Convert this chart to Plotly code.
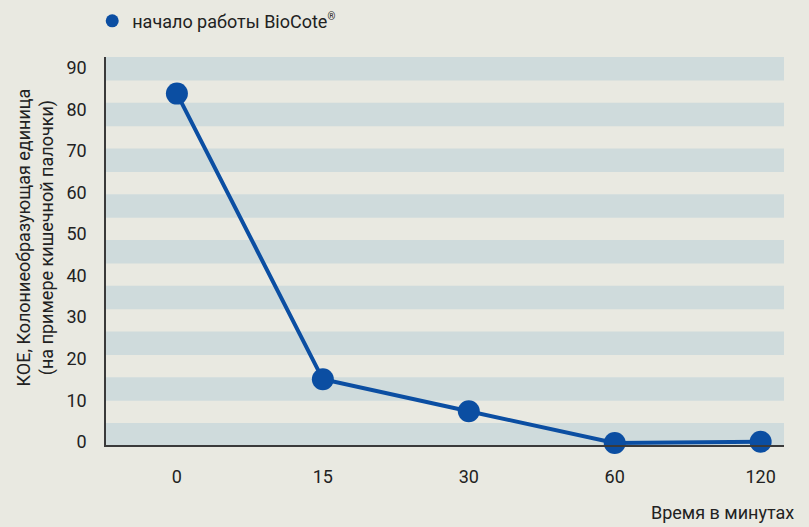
import plotly.graph_objects as go

# Data
time_labels = ["0", "15", "30", "60", "120"]
cfu_values = [84, 15.3, 7.6, 0, 0.3]
series_name = "начало работы BioCote<sup><span style='font-size:10px'>®</span></sup>"
y_ticks = [0, 10, 20, 30, 40, 50, 60, 70, 80, 90]
y_title_lines = ["КОЕ, Колониеобразующая единица", "(на примере кишечной палочки)"]
x_title = "Время в минутах"

W, H = 809, 527
ml, mr, mt, mb = 106, 25, 57, 82
plot_w = W - ml - mr
plot_h = H - mt - mb

blue = "#0b4ea2"
bg = "#e9e9e1"
stripe = "#cfdbdc"
axis_col = "#3a3a3a"
txt = "#222222"
FONT = "Roboto, 'Open Sans', sans-serif"

fig = go.Figure()
fig.add_trace(go.Scatter(
    x=time_labels, y=cfu_values, mode="lines+markers",
    line=dict(color=blue, width=4),
    marker=dict(color=blue, size=22),
    showlegend=False, cliponaxis=False,
))
fig.add_trace(go.Scatter(
    x=[None], y=[None], mode="markers", name=series_name,
    marker=dict(color=blue, size=13),
))

# decorative horizontal bands
n_bands = 9
period = 45.75
band_h = 23.5
shapes = []
for i in range(n_bands):
    top = i * period
    bot = top + band_h
    shapes.append(dict(type="rect", xref="paper", yref="paper", layer="below",
                       x0=-0.003, x1=1, y0=1 - bot / plot_h, y1=1 - top / plot_h,
                       fillcolor=stripe, line=dict(width=0)))
fig.update_layout(shapes=shapes)

fig.update_layout(
    width=W, height=H,
    margin=dict(l=ml, r=mr, t=mt, b=mb, autoexpand=False),
    paper_bgcolor=bg, plot_bgcolor=bg,
    font=dict(family=FONT, color=txt, size=18),
    legend=dict(orientation="h", xref="container", yref="container",
                x=0.114, y=0.995, xanchor="left", yanchor="top",
                itemwidth=30, font=dict(size=18, color=txt),
                bgcolor="rgba(0,0,0,0)"),
    xaxis=dict(type="category", range=[-0.486, 4.16],
               showgrid=False, zeroline=False,
               showline=True, linecolor=axis_col, linewidth=1.5,
               ticks="", ticklabelstandoff=15,
               tickfont=dict(size=18, color=txt)),
    yaxis=dict(range=[-0.5, 92.8], tickvals=y_ticks,
               showgrid=False, zeroline=False,
               showline=True, linecolor=axis_col, linewidth=1.5,
               ticks="", ticklabelstandoff=14, ticklabelshift=-1,
               tickfont=dict(size=18, color=txt)),
)

fig.add_annotation(
    text="<br>".join(y_title_lines), textangle=-90,
    xref="paper", yref="paper", x=(35 - ml) / plot_w, y=0.535,
    showarrow=False, xanchor="center", yanchor="middle",
    font=dict(size=18, color=txt), align="center",
)
fig.add_annotation(
    text=x_title, xref="paper", yref="paper", x=1, y=0,
    xshift=12, yshift=-67, xanchor="right", yanchor="middle",
    showarrow=False, font=dict(size=18, color=txt),
)

fig.write_html("out.html", config={"displayModeBar": False},
               post_script="document.body.style.margin='0';document.body.style.background='#e9e9e1';")
